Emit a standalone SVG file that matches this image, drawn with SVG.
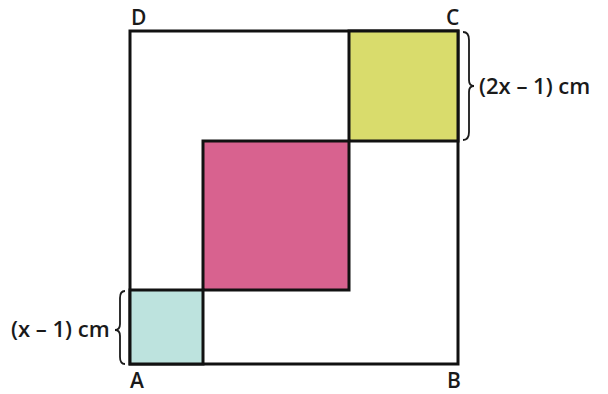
<svg xmlns="http://www.w3.org/2000/svg" width="608" height="394" viewBox="0 0 608 394">
<style>
.sq{stroke:#111;stroke-width:3;}
.lbl{font-family:"Open Sans","Liberation Sans",sans-serif;font-weight:600;font-size:21px;fill:#1a1a1a;}
.dim{font-family:"Open Sans","Liberation Sans",sans-serif;font-weight:600;font-size:22px;fill:#1a1a1a;}
.brace{fill:none;stroke:#1a1a1a;stroke-width:1.8;}
</style>
<rect width="608" height="394" fill="#ffffff"/>
<g id="outer"><rect class="sq" x="130" y="31" width="328" height="333" fill="#ffffff"/></g>
<g id="yellow"><rect class="sq" x="349" y="31" width="109" height="110" fill="#d9dc6c"/></g>
<g id="pink"><rect class="sq" x="203" y="141" width="146" height="149" fill="#d8628f"/></g>
<g id="blue"><rect class="sq" x="130" y="290" width="73" height="74" fill="#bde3de"/></g>
<g id="corners">
<text class="lbl" x="131" y="25">D</text>
<text class="lbl" x="446" y="25">C</text>
<text class="lbl" x="130" y="388">A</text>
<text class="lbl" x="447" y="388">B</text>
</g>
<g id="braces">
<path class="brace" d="M463,32 Q469,32 469,40 L469,80 Q469,86 474,86 Q469,86 469,92 L469,132 Q469,140 463,140"/>
<text class="dim" x="479" y="94">(2x – 1) cm</text>
<path class="brace" d="M125,291 Q120,291 120,298 L120,324 Q120,330 115,330 Q120,330 120,336 L120,357 Q120,364 125,364"/>
<text class="dim" x="11" y="337">(x – 1) cm</text>
</g>
</svg>
